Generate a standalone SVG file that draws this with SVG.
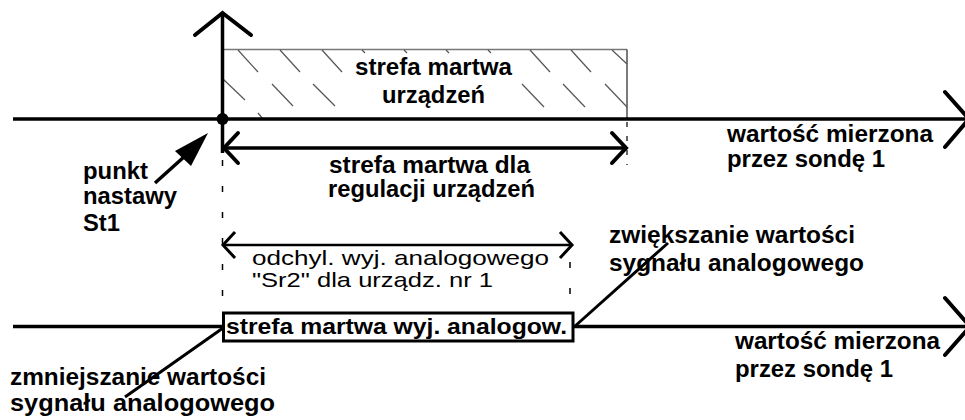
<svg xmlns="http://www.w3.org/2000/svg" width="965" height="420" viewBox="0 0 965 420">
<style>
.b{font-family:"Liberation Sans",Arial,sans-serif;font-weight:bold;font-size:23px;fill:#000}
.r{font-family:"Liberation Sans",Arial,sans-serif;font-size:21px;fill:#000}
.ax{stroke:#000;stroke-width:3.5;fill:none}
.chev{stroke:#000;stroke-width:4;fill:none;stroke-linecap:round;stroke-linejoin:miter}
.h{stroke:#555;stroke-width:1.2}
.dash{stroke:#000;stroke-width:1.5;stroke-dasharray:6 20}
</style>
<rect width="965" height="420" fill="#fff"/>

<g id="dead-zone-devices">
  <line x1="223" y1="49.5" x2="627" y2="49.5" stroke="#777" stroke-width="1.5"/>
  <line x1="627" y1="49.5" x2="627" y2="119" stroke="#222" stroke-width="1.2"/>
  <g class="h">
    <line x1="238" y1="50" x2="258" y2="72"/>
    <line x1="280" y1="50" x2="300" y2="72"/>
    <line x1="322" y1="50" x2="342" y2="72"/>
    <line x1="362" y1="50" x2="365" y2="53"/>
    <line x1="404" y1="50" x2="407" y2="53"/>
    <line x1="446" y1="50" x2="449" y2="53"/>
    <line x1="488" y1="50" x2="491" y2="53"/>
    <line x1="530" y1="50" x2="550" y2="72"/>
    <line x1="571" y1="50" x2="591" y2="72"/>
    <line x1="612" y1="50" x2="627" y2="64"/>
    <line x1="223" y1="79" x2="245" y2="100"/>
    <line x1="272" y1="84" x2="293" y2="106"/>
    <line x1="313" y1="84" x2="335" y2="106"/>
    <line x1="522" y1="84" x2="544" y2="107"/>
    <line x1="563" y1="84" x2="585" y2="107"/>
    <line x1="605" y1="84" x2="627" y2="107"/>
    <line x1="258" y1="113" x2="263" y2="119"/>
  </g>
  <text class="b" x="355" y="75" textLength="157" lengthAdjust="spacingAndGlyphs">strefa martwa</text>
  <text class="b" x="382" y="103" textLength="103" lengthAdjust="spacingAndGlyphs">urządzeń</text>
</g>

<g id="axis-top">
  <line class="ax" x1="13" y1="119" x2="968" y2="119"/>
  <polyline class="chev" points="945,92 969,119 945,147"/>
  <text class="b" x="727" y="142" textLength="206" lengthAdjust="spacingAndGlyphs">wartość mierzona</text>
  <text class="b" x="727" y="167" textLength="158" lengthAdjust="spacingAndGlyphs">przez sondę 1</text>
</g>

<g id="axis-vertical">
  <line class="ax" x1="222.5" y1="14" x2="222.5" y2="153"/>
  <polyline class="chev" points="195,35 222.5,13 251,35"/>
  <circle cx="222.5" cy="119" r="6" fill="#000"/>
</g>

<g id="setpoint">
  <text class="b" x="83" y="179" textLength="65" lengthAdjust="spacingAndGlyphs">punkt</text>
  <text class="b" x="83" y="204" textLength="94" lengthAdjust="spacingAndGlyphs">nastawy</text>
  <text class="b" x="83" y="231" textLength="37" lengthAdjust="spacingAndGlyphs">St1</text>
</g>

<g id="dead-zone-regulation">
  <text class="b" x="329" y="173" textLength="201" lengthAdjust="spacingAndGlyphs">strefa martwa dla</text>
  <text class="b" x="328" y="197" textLength="207" lengthAdjust="spacingAndGlyphs">regulacji urządzeń</text>
</g>

<g id="deviation-sr2">
  <text class="r" x="252" y="265" textLength="297" lengthAdjust="spacingAndGlyphs">odchyl. wyj. analogowego</text>
  <text class="r" x="252" y="287" textLength="241" lengthAdjust="spacingAndGlyphs">"Sr2" dla urządz. nr 1</text>
</g>

<g id="axis-bottom">
  <line class="ax" x1="13" y1="326.5" x2="968" y2="326.5"/>
  <polyline class="chev" points="945,298 970,326.5 945,355"/>
  <text class="b" x="735" y="349" textLength="205" lengthAdjust="spacingAndGlyphs">wartość mierzona</text>
  <text class="b" x="735" y="377" textLength="158" lengthAdjust="spacingAndGlyphs">przez sondę 1</text>
</g>

<g id="dead-zone-analog">
  <rect x="223.5" y="313" width="349.5" height="28" fill="#fff" stroke="#000" stroke-width="3"/>
  <text class="b" x="226" y="334" textLength="341" lengthAdjust="spacingAndGlyphs" style="font-size:22px">strefa martwa wyj. analogow.</text>
</g>

<g id="increase-label">
  <text class="b" x="609" y="243" textLength="246" lengthAdjust="spacingAndGlyphs">zwiększanie wartości</text>
  <text class="b" x="609" y="271" textLength="255" lengthAdjust="spacingAndGlyphs">sygnału analogowego</text>
</g>

<g id="decrease-label">
  <text class="b" x="10" y="385" textLength="256" lengthAdjust="spacingAndGlyphs">zmniejszanie wartości</text>
  <text class="b" x="10" y="411" textLength="265" lengthAdjust="spacingAndGlyphs">sygnału analogowego</text>
</g>

<g id="connectors">
  <line class="dash" x1="222.5" y1="160" x2="222.5" y2="312"/>
  <line x1="627" y1="122" x2="627" y2="165" stroke="#000" stroke-width="1.2" stroke-dasharray="5 9"/>
  <line class="dash" x1="570" y1="262" x2="570" y2="312"/>
  <line x1="223" y1="148" x2="626" y2="148" stroke="#000" stroke-width="3.5"/>
  <polyline class="chev" points="238,133 224,148 238,163"/>
  <polyline class="chev" points="612,133 626,148 612,163"/>
  <line x1="223" y1="245" x2="572" y2="245" stroke="#000" stroke-width="2.5"/>
  <polyline points="235,232 223,245 235,258" fill="none" stroke="#000" stroke-width="3"/>
  <polyline points="560,232 572,245 560,258" fill="none" stroke="#000" stroke-width="3"/>
  <line x1="155" y1="183" x2="185" y2="156" stroke="#000" stroke-width="3.5"/>
  <polygon points="208,133 175,151 191,166" fill="#000"/>
  <line x1="574" y1="327" x2="668" y2="243" stroke="#000" stroke-width="3"/>
  <line x1="223" y1="328" x2="125" y2="397" stroke="#000" stroke-width="3"/>
</g>
</svg>
